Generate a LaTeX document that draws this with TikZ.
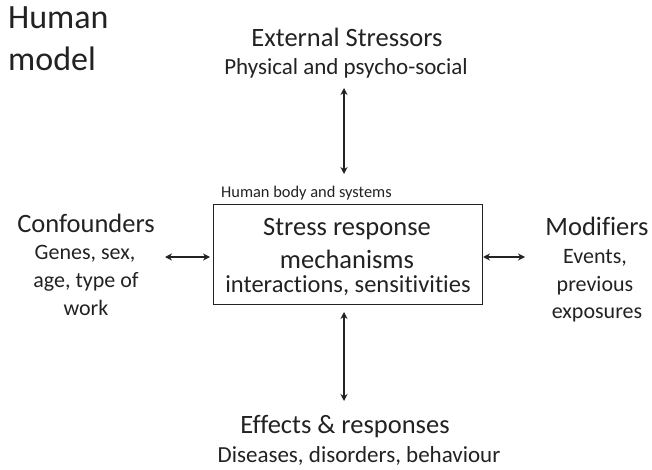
\documentclass[tikz,border=0pt]{standalone}
\usepackage{fontspec}
\setmainfont[Ligatures=NoCommon]{Carlito}
\usetikzlibrary{arrows.meta}
\definecolor{ink}{HTML}{222222}
\begin{document}
\begin{tikzpicture}[x=1pt,y=-1pt,
  every node/.style={inner sep=0pt, text=ink},
  head/.style={font=\fontsize{26.5}{30}\selectfont, anchor=base},
  sub/.style={font=\fontsize{23}{28}\selectfont, anchor=base},
  subs/.style={font=\fontsize{22}{28}\selectfont, anchor=base},
  ttl/.style={font=\fontsize{34}{42}\selectfont, anchor=base west},
  arr/.style={line width=1.4pt, draw=ink, {Stealth[length=7pt,width=7pt]}-{Stealth[length=7pt,width=7pt]}}]
\useasboundingbox (0,0) rectangle (652,470);
% title
\node[ttl] (t1) at (8,29) {Human};
\node[ttl] (t2) at (8,71) {model};
% top
\node[head] (ext) at (347,47) {External Stressors};
\node[sub] (exts) at (346,75) {Physical and psycho-social};
% box
\node[draw=ink, line width=0.9pt, minimum width=269pt, minimum height=100pt] (box) at (347.5,254) {};
\node[font=\fontsize{16.4}{20}\selectfont, anchor=base west] (hb) at (221,198) {Human body and systems};
\node[head] (b1) at (347,235) {Stress response};
\node[head] (b2) at (347,268) {mechanisms};
\node[sub, font=\fontsize{24.5}{28}\selectfont] (b3) at (348,292) {interactions, sensitivities};
% left
\node[head] (c0) at (86,232) {Confounders};
\node[subs] (c1) at (85,259) {Genes, sex,};
\node[subs] (c2) at (86,287) {age, type of};
\node[subs] (c3) at (86,315) {work};
% right
\node[head] (m0) at (597,235) {Modifiers};
\node[subs] (m1) at (595,263) {Events,};
\node[subs] (m2) at (595,291) {previous};
\node[subs] (m3) at (597,318) {exposures};
% bottom
\node[head] (e0) at (345,433) {Effects \& responses};
\node[sub] (e1) at (359,462) {Diseases, disorders, behaviour};
% arrows
\coordinate (a1) at (344,88);
\coordinate (a2) at (344,174);
\coordinate (a3) at (344,312);
\coordinate (a4) at (344,401);
\coordinate (a5) at (165,257);
\coordinate (a6) at (210,257);
\coordinate (a7) at (483,257);
\coordinate (a8) at (525,257);
\draw[arr] (a1) -- (a2);
\draw[arr] (a3) -- (a4);
\draw[arr] (a5) -- (a6);
\draw[arr] (a7) -- (a8);
\end{tikzpicture}
\end{document}
